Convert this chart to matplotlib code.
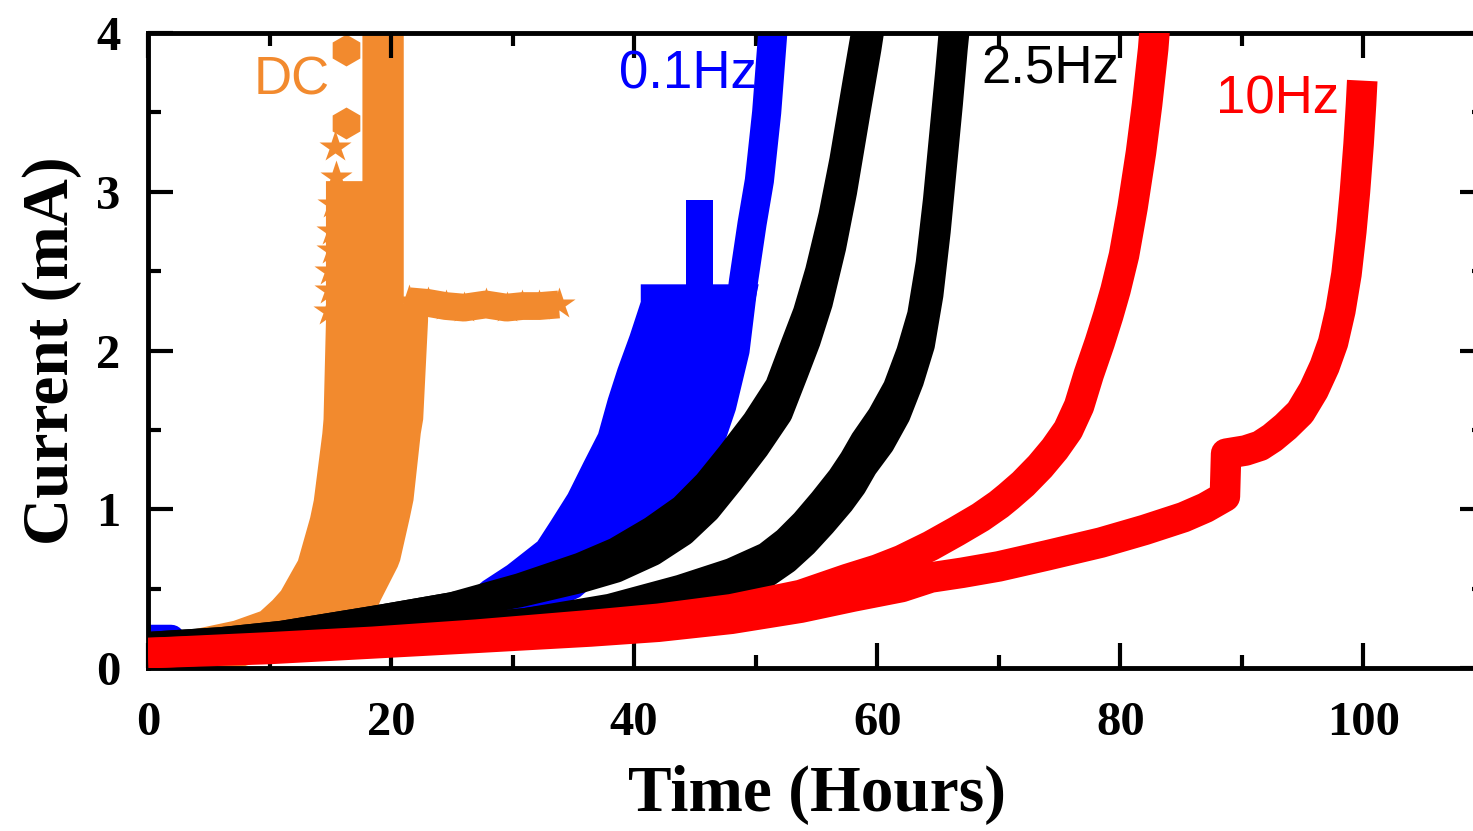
import matplotlib
matplotlib.use("Agg")
import matplotlib.pyplot as plt
import numpy as np

# DC run: band of scattered points (left / right edge vs current)
dc_y = [0.00, 0.22, 0.30, 0.36, 0.43, 0.49, 0.64, 0.68, 0.95, 1.06, 1.48, 1.57, 2.19, 2.30, 2.30, 3.07, 3.07, 4.10]
dc_left = [2.0, 2.1, 7.0, 9.2, 10.2, 10.9, 12.0, 12.3, 13.3, 13.6, 14.3, 14.4, 14.6, 14.6, 14.6, 14.6, 17.6, 17.6]
dc_right = [7.3, 16.5, 18.3, 18.7, 19.1, 19.5, 20.5, 20.7, 21.5, 21.8, 22.4, 22.6, 23.0, 23.0, 21.0, 21.0, 21.0, 21.0]
dc_arm_x = [21.5, 23.0, 24.5, 26.0, 27.8, 29.5, 30.8, 32.2, 33.8]
dc_arm_y = [2.31, 2.30, 2.28, 2.27, 2.29, 2.27, 2.28, 2.28, 2.29]
dc_star_x = [15.4, 15.5, 15.2, 15.1, 15.1, 15.0, 15.0, 14.9]
dc_star_y = [3.28, 3.09, 2.92, 2.75, 2.63, 2.50, 2.38, 2.25]
dc_hex_x = [16.3, 16.3]
dc_hex_y = [3.89, 3.43]

# 0.1 Hz run
b01_y = [0.28, 0.36, 0.45, 0.55, 0.65, 0.80, 0.93, 1.10, 1.30, 1.48, 1.70, 1.89, 2.10, 2.31, 2.42]
b01_left = [26.0, 26.0, 26.0, 27.5, 29.5, 32.0, 33.1, 34.5, 35.8, 37.0, 37.8, 38.6, 39.6, 40.5, 40.5]
b01_right = [31.0, 33.0, 35.5, 37.0, 38.5, 40.5, 42.3, 44.0, 45.6, 47.0, 48.0, 48.7, 49.3, 49.9, 50.2]
b01_top_x = [44.5, 46.0, 47.2, 48.3, 49.0, 49.7, 50.3, 50.9, 51.4, 51.6]
b01_top_y = [1.10, 1.38, 1.65, 2.00, 2.44, 2.80, 3.07, 3.50, 4.00, 4.15]
b01_low_x = [0, 1.9, 2.5, 10, 20, 26]
b01_low_y = [0.185, 0.185, 0.125, 0.135, 0.18, 0.30]
b01_spike_x = [44.3, 46.5]
b01_spike_lo = [2.30, 2.30]
b01_spike_hi = [2.95, 2.95]

# 2.5 Hz runs: centre of band and vertical spread of the oscillation
k1_x = [0, 6, 11, 15, 19, 25, 30.6, 35.6, 38.5, 41.5, 44, 46, 47.9, 50, 51.9, 53.2, 54.2, 55.2, 56.3, 57.2, 58.3, 59.2, 59.5]
k1_y = [0.14, 0.17, 0.21, 0.26, 0.31, 0.39, 0.49, 0.60, 0.68, 0.80, 0.93, 1.08, 1.26, 1.47, 1.69, 1.95, 2.15, 2.40, 2.75, 3.10, 3.60, 4.00, 4.15]
k1_sp = [0, 0, 0, 0, 0, 0, 0.04, 0.08, 0.11, 0.14, 0.15, 0.16, 0.16, 0.16, 0.17, 0.18, 0.18, 0.20, 0.20, 0.20, 0.20, 0.20, 0.20]
k2_x = [0, 10, 20, 31, 38, 43.8, 48, 50.9, 52.5, 54.0, 55.5, 57.0, 58.0, 58.9, 60.3, 61.6, 62.7, 63.6, 64.3, 64.9, 65.4, 65.9, 66.3, 66.5]
k2_y = [0.12, 0.16, 0.21, 0.29, 0.37, 0.47, 0.56, 0.65, 0.74, 0.85, 0.98, 1.12, 1.23, 1.35, 1.50, 1.68, 1.90, 2.13, 2.45, 2.85, 3.25, 3.65, 4.00, 4.15]
k2_sp = [0, 0, 0, 0, 0.02, 0.06, 0.09, 0.11, 0.12, 0.13, 0.14, 0.15, 0.16, 0.16, 0.17, 0.17, 0.18, 0.19, 0.20, 0.20, 0.20, 0.20, 0.20, 0.20]

# 10 Hz runs
r1_x = [0, 10, 18.5, 27, 36.4, 42, 48, 53.7, 57.5, 60, 62, 64.4, 66.5, 68.5, 70, 70.8, 72.0, 73.4, 74.6, 75.7, 76.6, 77.4, 78.3, 79.0, 79.6, 80.3, 81.0, 81.7, 82.2, 82.7, 82.9]
r1_y = [0.094, 0.13, 0.165, 0.21, 0.27, 0.31, 0.37, 0.46, 0.56, 0.62, 0.68, 0.77, 0.86, 0.95, 1.03, 1.08, 1.16, 1.27, 1.38, 1.50, 1.65, 1.85, 2.05, 2.22, 2.38, 2.60, 2.90, 3.25, 3.55, 3.90, 4.10]
r2_x = [0, 10, 18.5, 27, 36.4, 42, 48, 53.7, 58, 62, 64.4, 67, 70, 74, 78.4, 82, 85.2, 87, 88.6, 88.7, 90.3, 91.5, 92.5, 93.6, 94.8, 95.9, 96.8, 97.5, 98.1, 98.6, 99.0, 99.3, 99.6, 99.8, 99.9]
r2_y = [0.094, 0.12, 0.155, 0.19, 0.23, 0.26, 0.31, 0.38, 0.45, 0.51, 0.57, 0.60, 0.64, 0.71, 0.79, 0.87, 0.95, 1.01, 1.08, 1.35, 1.37, 1.40, 1.45, 1.52, 1.61, 1.75, 1.90, 2.05, 2.25, 2.48, 2.75, 3.00, 3.30, 3.55, 3.70]

orange = "#F28A2E"

fig = plt.figure(figsize=(14.73, 8.31), dpi=100)
ax = fig.add_axes([148 / 1473, 1 - 668 / 831, (1485 - 148) / 1473, (668 - 33) / 831])

# DC
ax.fill_betweenx(dc_y, dc_left, dc_right, color=orange, lw=0, zorder=1)
ax.plot(dc_arm_x, dc_arm_y, color=orange, lw=20, solid_capstyle="butt", zorder=1)
ax.plot(dc_arm_x, dc_arm_y, ls="none", marker="*", ms=24, color=orange, mec="none", zorder=1)
ax.plot(dc_star_x, dc_star_y, ls="none", marker="*", ms=24, color=orange, mec="none", zorder=1)
ax.plot(dc_hex_x, dc_hex_y, ls="none", marker="h", ms=23, color=orange, mec="none", zorder=1)

# 0.1 Hz
ax.plot(b01_low_x, b01_low_y, color="blue", lw=20, solid_capstyle="butt", zorder=2)
ax.fill_betweenx(b01_y, b01_left, b01_right, color="blue", lw=0, zorder=2)
ax.fill_between(b01_spike_x, b01_spike_lo, b01_spike_hi, color="blue", lw=0, zorder=2)
ax.plot(b01_top_x, b01_top_y, color="blue", lw=21, solid_capstyle="butt", zorder=2)

# 2.5 Hz: oscillation band drawn as two thick edges plus the fill between
for x, y, sp in [(k1_x, k1_y, k1_sp), (k2_x, k2_y, k2_sp)]:
    y = np.array(y)
    half = np.array(sp) / 2
    ax.fill_between(x, y - half, y + half, color="black", lw=0, zorder=3)
    ax.plot(x, y - half, color="black", lw=20, solid_capstyle="butt", zorder=3)
    ax.plot(x, y + half, color="black", lw=20, solid_capstyle="butt", zorder=3)

# 10 Hz
ax.plot(r1_x, r1_y, color="red", lw=22, solid_capstyle="butt", zorder=4)
ax.plot(r2_x, r2_y, color="red", lw=22, solid_capstyle="butt", zorder=4)

lab = dict(family="Liberation Sans", fontsize=38, ha="center", va="center", zorder=5)
ax.text(11.8, 3.70, "DC", color=orange, **lab)
ax.text(44.4, 3.74, "0.1Hz", color="blue", **lab)
ax.text(74.2, 3.77, "2.5Hz", color="black", **lab)
ax.text(92.9, 3.58, "10Hz", color="red", **lab)

ax.set_xlim(0, 110)
ax.set_ylim(0, 4)
ax.set_xticks([0, 20, 40, 60, 80, 100])
ax.set_xticks([10, 30, 50, 70, 90, 110], minor=True)
ax.set_yticks([0, 1, 2, 3, 4])
ax.set_yticks([0.5, 1.5, 2.5, 3.5], minor=True)
ax.tick_params(which="both", direction="in", top=True, right=True, width=3)
ax.tick_params(which="major", length=18)
ax.tick_params(which="minor", length=9.5)
ax.tick_params(axis="x", pad=24)
ax.tick_params(axis="y", pad=20)
for lbl in ax.get_xticklabels() + ax.get_yticklabels():
    lbl.set_family("Liberation Serif")
    lbl.set_fontweight("bold")
    lbl.set_fontsize(35)
for s in ax.spines.values():
    s.set_linewidth(3.5)

ax.set_xlabel("Time (Hours)", family="Liberation Serif", fontweight="bold", fontsize=47)
ax.set_ylabel("Current (mA)", family="Liberation Serif", fontweight="bold", fontsize=47)
ax.xaxis.set_label_coords(0.5, -0.153)
ax.yaxis.set_label_coords(-0.049, 0.5)

fig.savefig("out.png", dpi=100)
